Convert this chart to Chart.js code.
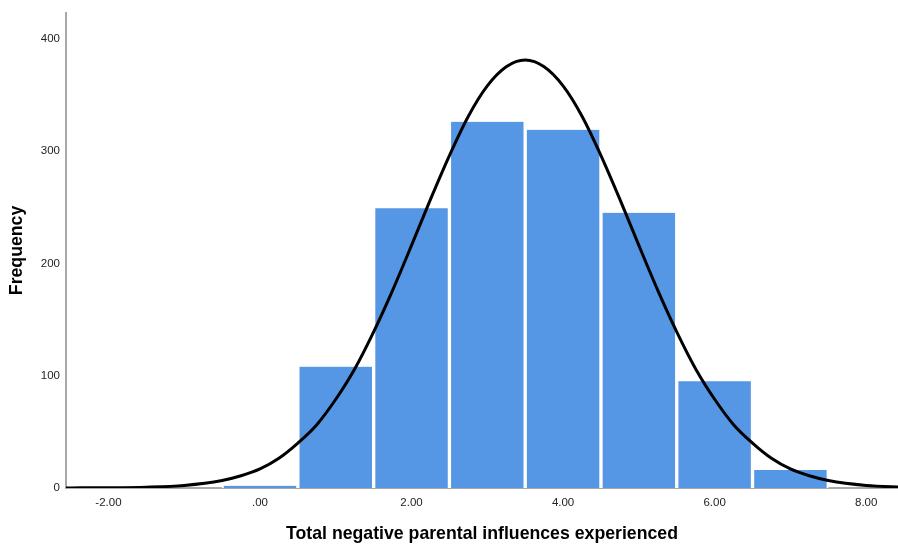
<!DOCTYPE html>
<html>
<head>
<meta charset="utf-8">
<script src="https://cdn.jsdelivr.net/npm/chart.js@4/dist/chart.umd.min.js"></script>
<style>
  html, body { margin: 0; padding: 0; background: #fff; }
  #wrap { width: 898px; height: 546px; position: relative; }
</style>
</head>
<body>
<div id="wrap"><canvas id="myChart"></canvas></div>
<script>
// histogram bins (centre of each bin) and counts
const binCenters = [0, 1, 2, 3, 4, 5, 6, 7];
const binCounts = [2, 108, 249, 326, 319, 245, 95, 16];

// normal curve
const curveX = [-3, -2.5, -2, -1.5, -1, -0.5, -0.25, 0, 0.25, 0.5, 0.75, 1, 1.25, 1.5, 1.75, 2, 2.25, 2.5, 2.75, 3, 3.25, 3.5,
  3.75, 4, 4.25, 4.5, 4.75, 5, 5.25, 5.5, 5.75, 6, 6.25, 6.5, 6.75, 7, 7.25, 7.5, 8, 8.5];
const curveY = [0.02, 0.1, 0.2, 0.7, 2.3, 6.7, 10.9, 17, 26.5, 40, 56.4, 79, 106, 139, 176, 216, 257, 296, 331, 358, 375, 381,
  375, 358, 331, 296, 257, 216, 176, 139, 106, 79, 56.4, 40, 26.5, 17, 10.9, 6.7, 2.3, 0.7];

const xTicks = [-2, 0, 2, 4, 6, 8];
const yTicks = [0, 100, 200, 300, 400];

const fmtX = (v) => {
  const s = v.toFixed(2);
  if (s === '0.00') return '.00';
  return s;
};

const fontFamily = '"Liberation Sans", Arial, sans-serif';

const ctx = document.getElementById('myChart').getContext('2d');
const chart = new Chart(ctx, {
  type: 'bar',
  data: {
    datasets: [{
      type: 'line',
      data: curveX.map((x, i) => ({ x: x, y: curveY[i] })),
      borderColor: '#000',
      borderWidth: 3,
      pointRadius: 0,
      cubicInterpolationMode: 'monotone',
      fill: false,
      order: 0
    }, {
      type: 'bar',
      data: binCenters.map((x, i) => ({ x: x, y: binCounts[i] })),
      backgroundColor: 'rgb(85, 150, 229)',
      borderColor: '#fff',
      borderWidth: { left: 2, right: 2, top: 0, bottom: 0 },
      barPercentage: 1,
      categoryPercentage: 1,
      order: 1
    }]
  },
  options: {
    responsive: true,
    maintainAspectRatio: false,
    animation: false,
    layout: { padding: { top: 10, right: 0, left: 0, bottom: 0 } },
    plugins: {
      legend: { display: false },
      tooltip: { enabled: false }
    },
    scales: {
      x: {
        type: 'linear',
        min: -2.56,
        max: 8.42,
        offset: false,
        grid: { display: false, drawTicks: false },
        border: { display: true, color: '#a8a8a8', width: 2 },
        afterBuildTicks: (scale) => { scale.ticks = xTicks.map(v => ({ value: v })); },
        afterFit: (scale) => { scale.height = 58; },
        ticks: {
          padding: 8,
          color: '#222',
          font: { family: fontFamily, size: 11.5 },
          callback: (v) => fmtX(v)
        },
        title: {
          display: true,
          text: 'Total negative parental influences experienced',
          color: '#000',
          font: { family: fontFamily, size: 17.7, weight: 'bold' },
          padding: { top: 0, bottom: 1 }
        }
      },
      y: {
        min: 0,
        max: 423,
        grid: { display: false, drawTicks: false },
        border: { display: true, color: '#a8a8a8', width: 2 },
        afterBuildTicks: (scale) => { scale.ticks = yTicks.map(v => ({ value: v })); },
        afterFit: (scale) => { scale.width = 66; },
        ticks: {
          padding: 6,
          color: '#222',
          font: { family: fontFamily, size: 11.5 }
        },
        title: {
          display: true,
          text: 'Frequency',
          color: '#000',
          font: { family: fontFamily, size: 17.7, weight: 'bold' },
          padding: { top: 6, bottom: 0 }
        }
      }
    }
  }
});
</script>
</body>
</html>
